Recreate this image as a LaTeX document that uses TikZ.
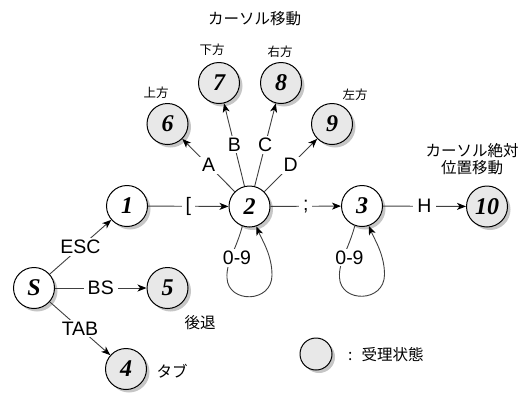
\documentclass[tikz,border=0pt]{standalone}
\usepackage{fontspec}
\setmainfont{Liberation Sans}
\newfontfamily\numfont{Liberation Serif}
\newfontfamily\jpfont{Noto Sans CJK JP}
\usetikzlibrary{arrows.meta,shadows}
\begin{document}
\begin{tikzpicture}[x=1pt,y=1pt,
  state/.style={circle, draw=black, line width=1pt, minimum size=41pt, inner sep=0pt, fill=white,
    drop shadow={shadow xshift=3pt,shadow yshift=-3pt,opacity=0.45},
    font=\numfont\fontsize{24}{24}\selectfont\bfseries\itshape},
  accept/.style={state, fill=black!9},
  edge/.style={line width=0.9pt, draw=black!75, -{Stealth[length=9pt,width=7pt,inset=2.5pt,color=black]}},
  elabel/.style={fill=white, inner xsep=4pt, inner ysep=2pt, font=\fontsize{19.5}{19.5}\selectfont},
  jp/.style={font=\jpfont\fontsize{15.5}{17}\selectfont, align=center, inner sep=0pt},
  jps/.style={font=\jpfont\fontsize{12.5}{14}\selectfont, inner sep=0pt}]
\useasboundingbox (0,0) rectangle (527,-392);

% states
\node[state]  (S)   at (34,-288)    {S};
\node[state]  (n1)  at (127,-206)   {1};
\node[state]  (n2)  at (249.5,-206.5) {2};
\node[state]  (n3)  at (362,-206)   {3};
\node[accept] (n10) at (487,-206.5) {10};
\node[accept] (n5)  at (167.5,-288) {5};
\node[accept] (n4)  at (126,-369)   {4};
\node[accept] (n6)  at (167.5,-124) {6};
\node[accept] (n7)  at (219,-83)    {7};
\node[accept] (n8)  at (281,-83)    {8};
\node[accept] (n9)  at (332,-124)   {9};

% edges
\draw[edge] (S)  -- node[elabel]{ESC} (n1);
\draw[edge] (S)  -- node[elabel]{BS}  (n5);
\draw[edge] (S)  -- node[elabel]{TAB} (n4);
\draw[edge] (n1) -- node[elabel]{[}   (n2);
\draw[edge] (n2) -- node[elabel]{;}   (n3);
\draw[edge] (n3) -- node[elabel]{H}   (n10);
\draw[edge] (n2) -- node[elabel]{A}   (n6);
\draw[edge] (n2) -- node[elabel]{B}   (n7);
\draw[edge] (n2) -- node[elabel]{C}   (n8);
\draw[edge] (n2) -- node[elabel]{D}   (n9);

% self loops
\draw[edge, shift={(n2.center)}] (n2.250) .. controls (-13.5,-43.5) and (-23.5,-55.5) .. (-22.5,-71.5)
  .. controls (-21.5,-97) and (22.5,-97) .. (22.5,-68.5)
  .. controls (22.5,-48.5) and (12.5,-33.5) .. (n2.289);
\node[elabel] (l2) at ([shift={(-12.5,-51.5)}]n2.center) {0-9};
\draw[edge, shift={(n3.center)}] (n3.250) .. controls (-13.5,-43.5) and (-23.5,-55.5) .. (-22.5,-71.5)
  .. controls (-21.5,-97) and (22.5,-97) .. (22.5,-68.5)
  .. controls (22.5,-48.5) and (12.5,-33.5) .. (n3.289);
\node[elabel] (l3) at ([shift={(-12.5,-51.5)}]n3.center) {0-9};

% Japanese labels
\node[jp]  (tmove) at (254.5,-19) {カーソル移動};
\node[jps] (t7) at (212,-50) {下方};
\node[jps] (t8) at (280,-52) {右方};
\node[jps] (t6) at (156,-93) {上方};
\node[jps] (t9) at (355,-95) {左方};
\node[jp]  (tabs) at (472,-159) {カーソル絶対\\位置移動};
\node[jp]  (t5) at (200,-323) {後退};
\node[jp]  (t4) at (172,-371) {タブ};

% legend
\node[accept, minimum size=32pt] (leg) at (316,-354) {};
\node[jp, anchor=west] (legt) at (348,-355) {:\hspace{9pt}受理状態};
\end{tikzpicture}
\end{document}
